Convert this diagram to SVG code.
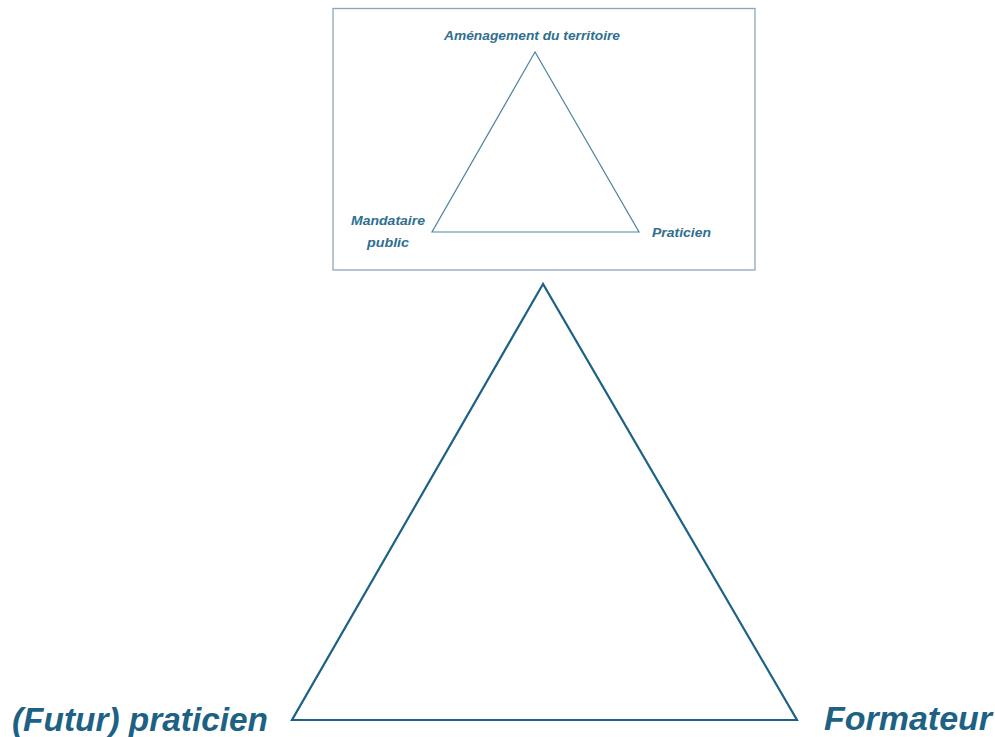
<svg xmlns="http://www.w3.org/2000/svg" width="995" height="737" viewBox="0 0 995 737">
  <style>
    .lbl { font-family: "Liberation Sans", Arial, sans-serif; font-weight: bold; font-style: italic; fill: #1d6285; }
    .small { font-size: 13.5px; fill: #2f6f8f; }
    .big { font-size: 33px; }
    .tri-small { fill: none; stroke: #4f84a2; stroke-width: 1.2; stroke-linejoin: miter; }
    .tri-big { fill: none; stroke: #1d6285; stroke-width: 2.2; stroke-linejoin: miter; }
  </style>
  <rect width="995" height="737" fill="#ffffff"/>

  <!-- inset: the land-planning triangle -->
  <g id="inset">
    <rect x="333" y="8.5" width="422" height="261.5" fill="none" stroke="#8ba6ba" stroke-width="1.3"/>
    <polygon class="tri-small" points="535,52 432,232 639,232"/>
  </g>
  <g id="node-amenagement">
    <text class="lbl small" x="444" y="40" textLength="176" lengthAdjust="spacingAndGlyphs">Aménagement du territoire</text>
  </g>
  <g id="node-mandataire">
    <text class="lbl small" x="351" y="225" textLength="74" lengthAdjust="spacingAndGlyphs">Mandataire</text>
    <text class="lbl small" x="367" y="247" textLength="42" lengthAdjust="spacingAndGlyphs">public</text>
  </g>
  <g id="node-praticien">
    <text class="lbl small" x="652" y="237" textLength="59" lengthAdjust="spacingAndGlyphs">Praticien</text>
  </g>

  <!-- main training triangle -->
  <g id="connectors">
    <polygon class="tri-big" points="543,284 292,720 797,720"/>
  </g>
  <g id="node-futur-praticien">
    <text class="lbl big" x="12" y="731" textLength="256" lengthAdjust="spacingAndGlyphs">(Futur) praticien</text>
  </g>
  <g id="node-formateur">
    <text class="lbl big" x="824" y="730" textLength="168" lengthAdjust="spacingAndGlyphs">Formateur</text>
  </g>
</svg>
